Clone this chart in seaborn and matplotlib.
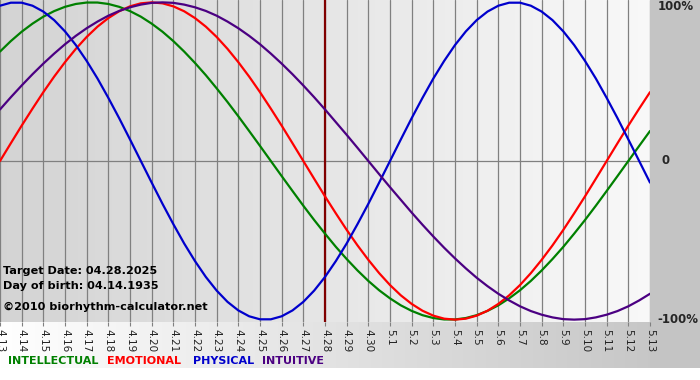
import numpy as np
import pandas as pd
import matplotlib
matplotlib.use("Agg")
import matplotlib.pyplot as plt
import seaborn as sns

# ---------------------------------------------------------------------
# Data (two readings per day, 4.13 -> 5.13)
# ---------------------------------------------------------------------
dates = ["4.13", "4.14", "4.15", "4.16", "4.17", "4.18", "4.19", "4.20",
         "4.21", "4.22", "4.23", "4.24", "4.25", "4.26", "4.27", "4.28",
         "4.29", "4.30", "5.1", "5.2", "5.3", "5.4", "5.5", "5.6", "5.7",
         "5.8", "5.9", "5.10", "5.11", "5.12", "5.13"]

physical = [0.979, 0.998, 0.998, 0.979, 0.942, 0.888, 0.817, 0.731, 0.631,
            0.520, 0.398, 0.270, 0.136, 0.000, -0.136, -0.270, -0.398,
            -0.520, -0.631, -0.731, -0.817, -0.888, -0.942, -0.979, -0.998,
            -0.998, -0.979, -0.942, -0.888, -0.817, -0.731, -0.631, -0.520,
            -0.398, -0.270, -0.136,
            0.000, 0.136, 0.270, 0.398, 0.520, 0.631, 0.731, 0.817, 0.888,
            0.942, 0.979, 0.998, 0.998, 0.979, 0.942, 0.888, 0.817, 0.731,
            0.631, 0.520, 0.398, 0.270, 0.136, 0.000, -0.136]
emotional = [0.000, 0.112, 0.223, 0.330, 0.434, 0.532, 0.623, 0.707, 0.782,
             0.847, 0.901, 0.944, 0.975, 0.994, 1.000, 0.994, 0.975, 0.944,
             0.901, 0.847, 0.782, 0.707, 0.623, 0.532, 0.434, 0.330, 0.223,
             0.112,
             0.000, -0.112, -0.223, -0.330, -0.434, -0.532, -0.623, -0.707,
             -0.782, -0.847, -0.901, -0.944, -0.975, -0.994, -1.000, -0.994,
             -0.975, -0.944, -0.901, -0.847, -0.782, -0.707, -0.623, -0.532,
             -0.434, -0.330, -0.223, -0.112,
             0.000, 0.112, 0.223, 0.330, 0.434]
intellectual = [0.690, 0.756, 0.815, 0.866, 0.910, 0.945, 0.972, 0.990,
                0.999, 0.999, 0.990, 0.972, 0.945, 0.910, 0.866, 0.815,
                0.756, 0.690, 0.618, 0.541, 0.458, 0.372, 0.282, 0.189,
                0.095, 0.000,
                -0.095, -0.189, -0.282, -0.372, -0.458, -0.541, -0.618,
                -0.690, -0.756, -0.815, -0.866, -0.910, -0.945, -0.972,
                -0.990, -0.999, -0.999, -0.990, -0.972, -0.945, -0.910,
                -0.866, -0.815, -0.756, -0.690, -0.618, -0.541, -0.458,
                -0.372, -0.282, -0.189, -0.095,
                0.000, 0.095, 0.189]
intuitive = [0.325, 0.402, 0.476, 0.547, 0.614, 0.677, 0.736, 0.789, 0.837,
             0.879, 0.916, 0.946, 0.969, 0.986, 0.997, 1.000, 0.997, 0.986,
             0.969, 0.946, 0.916, 0.879, 0.837, 0.789, 0.736, 0.677, 0.614,
             0.547, 0.476, 0.402, 0.325, 0.245, 0.165, 0.083, 0.000,
             -0.083, -0.165, -0.245, -0.325, -0.402, -0.476, -0.547, -0.614,
             -0.677, -0.736, -0.789, -0.837, -0.879, -0.916, -0.946, -0.969,
             -0.986, -0.997, -1.000, -0.997, -0.986, -0.969, -0.946, -0.916,
             -0.879, -0.837]

target_date = "4.28"
info_lines = ["Target Date: 04.28.2025", "Day of birth: 04.14.1935",
              "©2010 biorhythm-calculator.net"]
legend_names = ["INTELLECTUAL", "EMOTIONAL", "PHYSICAL", "INTUITIVE"]

colors = {"INTELLECTUAL": "#008000", "EMOTIONAL": "#ff0000",
          "PHYSICAL": "#0000cc", "INTUITIVE": "#4b0082"}

# readings are taken every half day
day = np.arange(len(physical)) * 0.5
df = pd.concat([
    pd.DataFrame({"day": day, "value": intellectual, "rhythm": "INTELLECTUAL"}),
    pd.DataFrame({"day": day, "value": emotional, "rhythm": "EMOTIONAL"}),
    pd.DataFrame({"day": day, "value": physical, "rhythm": "PHYSICAL"}),
    pd.DataFrame({"day": day, "value": intuitive, "rhythm": "INTUITIVE"}),
])

# ---------------------------------------------------------------------
# Figure
# ---------------------------------------------------------------------
sns.set_style("white")
plt.rcParams["font.family"] = ["DejaVu Sans"]

W, H = 700, 380
fig = plt.figure(figsize=(W / 100, H / 100), dpi=100)

# background panels: right gray column, bottom gradient strip
bg = np.ones((H, W))
bg[:368, 650:] = 0.77
bg[322:368, :650] = np.linspace(1.0, 0.78, 650)[None, :]
bg_ax = fig.add_axes([0, 0, 1, 1])
bg_ax.imshow(np.dstack([bg] * 3), aspect="auto", interpolation="nearest")
bg_ax.axis("off")

ax = fig.add_axes([0, (H - 322) / H, 650 / W, 322 / H])
ylim = 1.015
grad = np.linspace(0.83, 0.975, 300)[None, :]
ax.imshow(np.dstack([grad] * 3), extent=[0, 30, -ylim, ylim], aspect="auto",
          zorder=0)

ticks = np.arange(len(dates))
for i in ticks:
    ax.axvline(i, color="#808080", lw=0.9, zorder=1)
ax.axhline(0, color="#808080", lw=0.9, zorder=1)
ax.axvline(dates.index(target_date), color="#800000", lw=1.6, zorder=2)

sns.lineplot(data=df, x="day", y="value", hue="rhythm", palette=colors,
             linewidth=1.6, legend=False, ax=ax, zorder=3)

ax.set_xlim(0, 30)
ax.set_ylim(-ylim, ylim)
ax.set_xticks(ticks)
ax.set_xticklabels(dates, rotation=270, fontsize=7.5, color="#222222")
ax.tick_params(axis="x", length=3, color="#808080", pad=2, bottom=True)
ax.set_yticks([])
ax.set_xlabel("")
ax.set_ylabel("")
for s in ax.spines.values():
    s.set_visible(False)

# right side percent labels
ytr = ax.get_yaxis_transform()
for val, lab in [(1, "100%"), (0, "0"), (-1, "-100%")]:
    ax.text(1.012 if lab != "0" else 1.018, val * 0.975 if val > 0 else val,
            lab, transform=ytr, ha="left", va="center", fontsize=8.5,
            fontweight="bold", clip_on=False)

# info text in the plot
for lab, ypx in zip(info_lines, [271, 286, 307]):
    ax.text(0.004, (322 - ypx) / 322, lab, transform=ax.transAxes,
            ha="left", va="center", fontsize=8.1, fontweight="bold",
            color="black", zorder=4)

# colored word legend
for lab, xpx in zip(legend_names, [8, 107, 193, 262]):
    fig.text(xpx / W, (H - 361) / H, lab, ha="left", va="center",
             fontsize=8, fontweight="bold", color=colors[lab])

fig.savefig("out.png", dpi=100)
